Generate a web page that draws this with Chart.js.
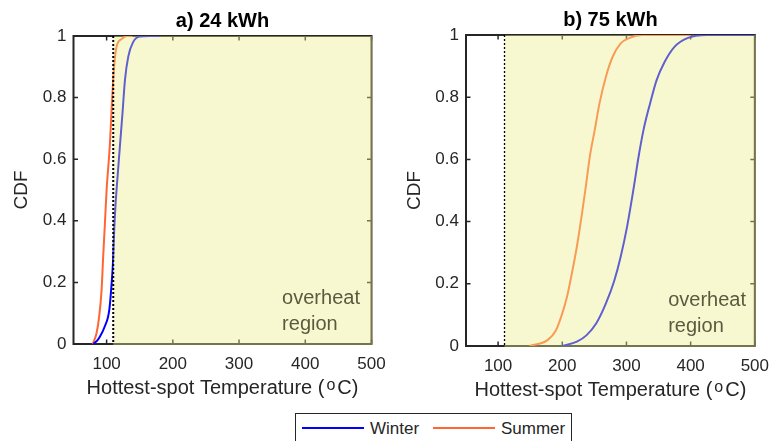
<!DOCTYPE html>
<html>
<head>
<meta charset="utf-8">
<script src="https://cdn.jsdelivr.net/npm/chart.js@4"></script>
<style>
  body { margin: 0; width: 779px; height: 441px; overflow: hidden; background: #fff; position: relative; font-family: "Liberation Sans", Arial, sans-serif; }
  canvas { position: absolute; top: 0; }
  #chartA { left: 0; }
  #chartB { left: 390px; }
  .legend { position: absolute; left: 295px; top: 413px; width: 277px; height: 36px; border: 1px solid #262626; box-sizing: border-box; background: #fff; color: #262626; font-size: 17px; }
  .legend span { position: absolute; top: 5px; }
  .legend i { position: absolute; top: 13px; height: 2px; }
</style>
</head>
<body>
<canvas id="chartA" width="400" height="441"></canvas>
<canvas id="chartB" width="389" height="441"></canvas>
<div class="legend">
  <i style="left:6px;width:62px;background:#0000ff"></i><span style="left:74px">Winter</span>
  <i style="left:137px;width:62px;background:#ff6633"></i><span style="left:205px">Summer</span>
</div>
<script>
const xTicks = [100, 200, 300, 400, 500];
const yTicks = [0, 0.2, 0.4, 0.6, 0.8, 1];
const yTickLabels = ['0', '0.2', '0.4', '0.6', '0.8', '1'];
const overheatLimit = 110;

// a) 24 kWh
const winter24Temp = [80, 86, 90, 97, 104, 107.6, 110, 111.5, 113.6, 115, 120, 124, 127.7, 132.7, 140, 150, 165, 180];
const winter24Cdf  = [0, 0.012, 0.024, 0.056, 0.11, 0.197, 0.28, 0.37, 0.457, 0.5, 0.64, 0.75, 0.857, 0.933, 0.98, 0.998, 1, 1];
const summer24Temp = [79, 84.8, 88.8, 92.4, 94.8, 97.4, 100, 105, 108, 111, 115, 122.7, 130, 139];
const summer24Cdf  = [0, 0.035, 0.09, 0.175, 0.283, 0.39, 0.5, 0.65, 0.78, 0.89, 0.965, 0.99, 1, 1];

// b) 75 kWh
const winter75Temp = [200, 222.8, 238, 253, 268, 281, 291, 301, 311.4, 319, 326.6, 336.8, 347, 359.6, 374.8, 395, 425, 500];
const winter75Cdf  = [0, 0.014, 0.035, 0.073, 0.137, 0.21, 0.287, 0.384, 0.51, 0.61, 0.695, 0.78, 0.855, 0.914, 0.962, 0.99, 1, 1];
const summer75Temp = [149, 177, 190, 200, 207.6, 215, 222.8, 230, 236.5, 243, 250.6, 258, 268, 278.5, 291, 304, 324, 400];
const summer75Cdf  = [0, 0.019, 0.05, 0.105, 0.16, 0.234, 0.32, 0.416, 0.51, 0.61, 0.695, 0.78, 0.866, 0.93, 0.973, 0.99, 1, 1];

const FONT = '"Liberation Sans", Arial, sans-serif';
const INK = '#262626';

const toPoints = (xs, ys) => xs.map((x, i) => ({ x, y: ys[i] }));

// frame + inward ticks (matlab style), then the yellow overheat patch on top of the curves
const matlabAxes = {
  id: 'matlabAxes',
  beforeDatasetsDraw(chart) {
    const { ctx, chartArea: a, scales: { x, y } } = chart;
    ctx.save();
    ctx.strokeStyle = INK;
    ctx.lineWidth = 2;
    ctx.strokeRect(a.left, a.top, a.right - a.left, a.bottom - a.top);
    ctx.lineWidth = 1.5;
    ctx.beginPath();
    xTicks.forEach(v => {
      const px = x.getPixelForValue(v);
      ctx.moveTo(px, a.bottom); ctx.lineTo(px, a.bottom - 4.5);
      ctx.moveTo(px, a.top); ctx.lineTo(px, a.top + 4.5);
    });
    yTicks.forEach(v => {
      const py = y.getPixelForValue(v);
      ctx.moveTo(a.left, py); ctx.lineTo(a.left + 4.5, py);
      ctx.moveTo(a.right, py); ctx.lineTo(a.right - 4.5, py);
    });
    ctx.stroke();
    ctx.restore();
  },
  afterDatasetsDraw(chart) {
    const { ctx, chartArea: a, scales: { x, y } } = chart;
    const o = chart.options.plugins.matlabAxes;
    const x0 = x.getPixelForValue(overheatLimit);
    ctx.save();
    ctx.fillStyle = 'rgba(238, 238, 137, 0.4)';
    ctx.fillRect(x0, y.getPixelForValue(1), x.getPixelForValue(500) + 1 - x0, y.getPixelForValue(0) + 1 - y.getPixelForValue(1));

    // threshold line
    ctx.strokeStyle = '#000';
    ctx.lineWidth = o.dotWidth;
    ctx.setLineDash([2, 2]);
    ctx.beginPath();
    ctx.moveTo(x0, a.top);
    ctx.lineTo(x0, a.bottom);
    ctx.stroke();
    ctx.setLineDash([]);

    ctx.fillStyle = '#5a5a40';
    ctx.font = '20px ' + FONT;
    ctx.textAlign = 'left';
    ctx.textBaseline = 'alphabetic';
    ctx.fillText('overheat', x.getPixelForValue(365), y.getPixelForValue(0.13));
    ctx.fillText('region', x.getPixelForValue(365), y.getPixelForValue(0.045));

    // title
    const cx = (a.left + a.right) / 2;
    ctx.fillStyle = '#000';
    ctx.textAlign = 'center';
    ctx.font = 'bold 20px ' + FONT;
    ctx.fillText(o.title, cx, a.top - 9);

    // x axis label with superscript o
    const base = a.bottom + 49.5;
    const p1 = 'Hottest-spot Temperature (', p2 = 'o', p3 = 'C)';
    ctx.fillStyle = INK;
    ctx.font = '20px ' + FONT;
    const w1 = ctx.measureText(p1).width, w3 = ctx.measureText(p3).width;
    ctx.font = '16px ' + FONT;
    const w2 = ctx.measureText(p2).width;
    const total = w1 + w2 + w3 + 4;
    let tx = cx - total / 2;
    ctx.textAlign = 'left';
    ctx.font = '20px ' + FONT;
    ctx.fillText(p1, tx, base);
    tx += w1 + 2;
    ctx.font = '16px ' + FONT;
    ctx.fillText(p2, tx, base - 4);
    tx += w2 + 2;
    ctx.font = '20px ' + FONT;
    ctx.fillText(p3, tx, base);
    ctx.restore();
  }
};

function makeChart(id, title, winter, summer, lay) {
  const ctx = document.getElementById(id).getContext('2d');
  return new Chart(ctx, {
    type: 'line',
    data: {
      datasets: [
        { label: 'Winter', data: winter, borderColor: '#0000ff', borderWidth: 2, pointRadius: 0, cubicInterpolationMode: 'monotone', fill: false },
        { label: 'Summer', data: summer, borderColor: '#ff6633', borderWidth: 2, pointRadius: 0, cubicInterpolationMode: 'monotone', fill: false }
      ]
    },
    options: {
      responsive: false,
      animation: false,
      layout: { padding: { left: 0, right: lay.right, top: lay.top, bottom: lay.bottom } },
      plugins: {
        legend: { display: false },
        tooltip: { enabled: false },
        matlabAxes: { title, dotWidth: lay.dot }
      },
      scales: {
        x: {
          type: 'linear', min: 50, max: 500,
          afterBuildTicks: s => { s.ticks = xTicks.map(v => ({ value: v })); },
          afterFit: s => { s.height = 40; },
          grid: { display: false, drawTicks: false },
          border: { display: false },
          ticks: { padding: 10, color: INK, font: { family: FONT, size: 17 }, maxRotation: 0 }
        },
        y: {
          type: 'linear', min: 0, max: 1,
          afterBuildTicks: s => { s.ticks = yTicks.map(v => ({ value: v })); },
          afterFit: s => { s.width = lay.left; },
          grid: { display: false, drawTicks: false },
          border: { display: false },
          ticks: { padding: 7, color: INK, font: { family: FONT, size: 17 }, callback: (v, i) => yTickLabels[i] },
          title: { display: true, text: 'CDF', color: INK, font: { family: FONT, size: 19 }, padding: { top: lay.left - 63, bottom: 0 } }
        }
      }
    },
    plugins: [matlabAxes]
  });
}

makeChart('chartA', 'a) 24 kWh', toPoints(winter24Temp, winter24Cdf), toPoints(summer24Temp, summer24Cdf),
  { left: 73.5, right: 28.5, top: 36, bottom: 57, dot: 2 });
makeChart('chartB', 'b) 75 kWh', toPoints(winter75Temp, winter75Cdf), toPoints(summer75Temp, summer75Cdf),
  { left: 76, right: 16.3, top: 35, bottom: 55, dot: 1.3 });
</script>
</body>
</html>
